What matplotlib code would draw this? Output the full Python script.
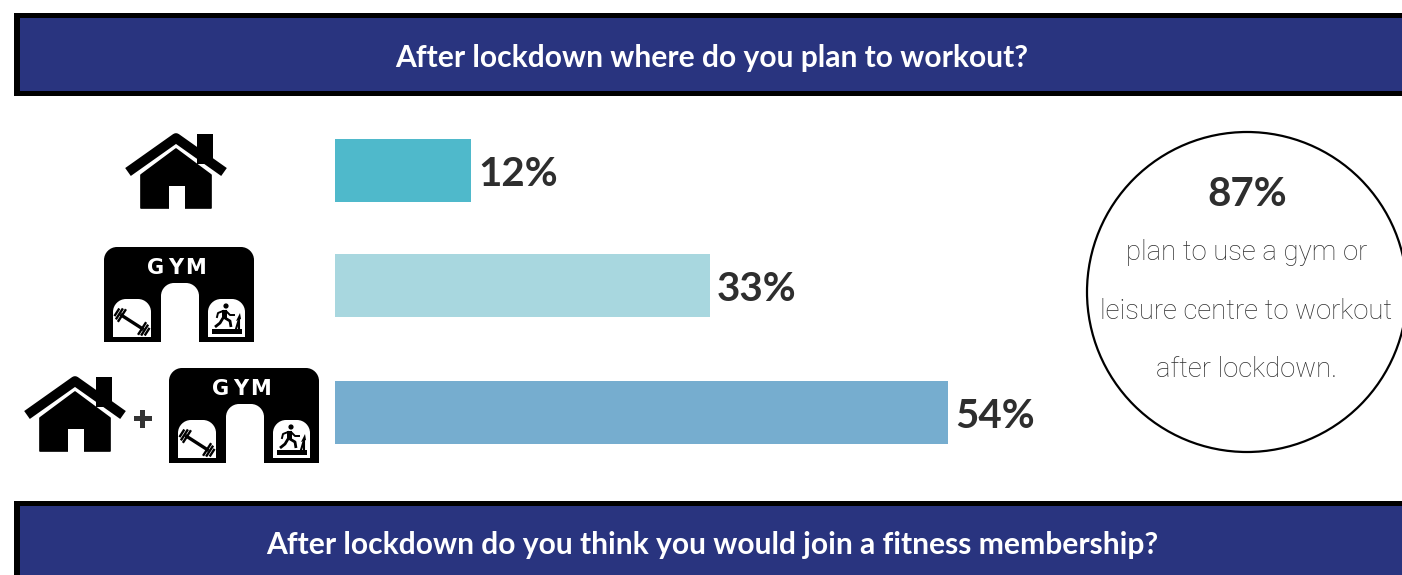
import matplotlib
matplotlib.use('Agg')
import matplotlib.pyplot as plt
import numpy as np
from matplotlib.patches import Rectangle, Circle, Polygon, PathPatch
from matplotlib.path import Path

# Datos del gráfico
categorias = ['Casa', 'Gimnasio', 'Casa + gimnasio']
valores = [12, 33, 54]
colores = ['#4FB9CB', '#A8D7DF', '#76ADCF']
titulo_1 = 'After lockdown where do you plan to workout?'
titulo_2 = 'After lockdown do you think you would join a fitness membership?'
lineas_circulo = ['plan to use a gym or', 'leisure centre to workout', 'after lockdown.']
valor_circulo = '87%'

AZUL = '#29347F'
TEXTO = '#2E2E2E'
plt.rcParams['font.family'] = ['Lato', 'DejaVu Sans']

fig = plt.figure(figsize=(14.02, 5.75), dpi=100)
# Eje de fondo en coordenadas de píxel
ax = fig.add_axes([0, 0, 1, 1])
ax.set_xlim(0, 1402)
ax.set_ylim(575, 0)
ax.axis('off')

# Ejes de las barras: 0 a 100 en x, categorías en y
ax_barras = fig.add_axes([335 / 1402, 1 - 460 / 575, (1500 - 335) / 1402, 330 / 575])
ax_barras.set_xlim(0, 1165 / 11.35)
ax_barras.set_ylim(460, 130)
ax_barras.axis('off')
ax_barras.patch.set_alpha(0)


def banner(y0, y1, texto, y_texto):
    ax.add_patch(Rectangle((14, y0), 1400, y1 - y0, fc='black', ec='none'))
    ax.add_patch(Rectangle((19.5, y0 + 5), 1400, y1 - y0 - 10.5, fc=AZUL, ec='none'))
    ax.text(712, y_texto, texto, color='white', fontsize=21.6, fontweight='bold',
            ha='center', va='baseline')


def arco(x0, x1, arriba, abajo, r, color):
    # Rectángulo con las esquinas superiores redondeadas
    k = 0.45 * r
    vertices = [(x0, abajo), (x0, arriba + r), (x0, arriba + k), (x0 + k, arriba), (x0 + r, arriba),
                (x1 - r, arriba), (x1 - k, arriba), (x1, arriba + k), (x1, arriba + r),
                (x1, abajo), (x0, abajo)]
    codigos = [Path.MOVETO, Path.LINETO, Path.CURVE4, Path.CURVE4, Path.CURVE4,
               Path.LINETO, Path.CURVE4, Path.CURVE4, Path.CURVE4,
               Path.LINETO, Path.CLOSEPOLY]
    ax.add_patch(PathPatch(Path(vertices, codigos), fc=color, ec='none'))


def casa(cx, base):
    # Tejado como línea gruesa, chimenea y cuerpo con puerta
    ax.add_patch(Rectangle((cx + 21, base - 75), 16, 30, fc='black', ec='none'))
    ax.plot([cx - 48, cx, cx + 48], [base - 37, base - 71, base - 37], color='black', lw=7,
            solid_capstyle='butt', solid_joinstyle='round')
    ax.add_patch(Polygon([(cx - 35, base - 34), (cx, base - 60), (cx + 35, base - 34),
                          (cx + 35, base - 1), (cx + 9, base - 1), (cx + 9, base - 23),
                          (cx - 7, base - 23), (cx - 7, base - 1), (cx - 35, base - 1)],
                         fc='black', ec='black', lw=1.2, joinstyle='round'))
    ax.add_patch(Rectangle((cx - 7, base - 23), 16, 24, fc='white', ec='none'))


def gimnasio(x0, y0):
    # Edificio negro con puerta en arco y dos ventanas con iconos
    arco(x0, x0 + 150, y0, y0 + 95, 13, 'black')
    arco(x0 + 57, x0 + 95, y0 + 36, y0 + 96, 13, 'white')
    arco(x0 + 9, x0 + 47, y0 + 52, y0 + 90, 13, 'white')
    arco(x0 + 104, x0 + 141, y0 + 52, y0 + 90, 13, 'white')
    for letra, dx in zip('GYM', [51.5, 71.5, 91.5]):
        ax.text(x0 + dx, y0 + 27, letra, color='white', fontsize=15, fontweight='bold',
                ha='center', va='baseline', family='DejaVu Sans')
    # Mancuerna inclinada
    centro = np.array([x0 + 28, y0 + 75])
    u = np.array([0.84, 0.54])
    v = np.array([-0.54, 0.84])
    ax.plot(*zip(centro - 14 * u, centro + 14 * u), color='black', lw=2.4, solid_capstyle='butt')
    for signo in (-1, 1):
        for t, largo in [(12, 7.5), (15, 6.5), (18, 4.5)]:
            p = centro + signo * t * u
            ax.plot(*zip(p - largo * v, p + largo * v), color='black', lw=1.7, solid_capstyle='butt')
    # Persona en la cinta de correr
    px, py = x0 + 121, y0 + 59
    ax.add_patch(Circle((px + 1, py), 2.6, fc='black', ec='none'))
    ax.add_patch(Polygon([(px - 3, py + 4), (px + 2, py + 4), (px + 2, py + 13), (px - 3, py + 13)],
                         fc='black', ec='none'))
    ax.plot([px - 2, px - 5, px - 10], [py + 12, py + 17, py + 21], color='black', lw=2,
            solid_capstyle='butt')
    ax.plot([px, px + 5, px + 6], [py + 12, py + 15, py + 21], color='black', lw=2,
            solid_capstyle='butt')
    ax.plot([px + 1, px + 5, px + 9], [py + 5, py + 9, py + 9], color='black', lw=1.4)
    ax.plot([px - 2, px - 7, px - 8], [py + 5, py + 7, py + 11], color='black', lw=1.4)
    ax.add_patch(Rectangle((x0 + 108, y0 + 82), 30, 4.5, fc='black', ec='none'))
    ax.plot([x0 + 132, x0 + 135, x0 + 135], [y0 + 82, y0 + 72, y0 + 82], color='black', lw=1.5)
    ax.add_patch(Polygon([(x0 + 132, y0 + 74), (x0 + 136, y0 + 66), (x0 + 137, y0 + 72)],
                         fc='black', ec='none'))


banner(13, 96, titulo_1, 67)
banner(501, 590, titulo_2, 554)

casa(176, 209)
gimnasio(104, 247)
casa(75, 452)
ax.add_patch(Rectangle((134, 416), 17.5, 5, fc='#333333', ec='none'))
ax.add_patch(Rectangle((140.3, 409.5), 5, 18, fc='#333333', ec='none'))
gimnasio(169, 368)

# Barras horizontales con su etiqueta de porcentaje
posiciones = [170.5, 285.5, 412.5]
barras = ax_barras.barh(posiciones, valores, height=63, color=colores)
for barra, valor in zip(barras, valores):
    ax_barras.annotate(f'{valor}%', (barra.get_width(), barra.get_y() + barra.get_height() / 2),
                       xytext=(5, -11), textcoords='offset points', color=TEXTO, fontsize=29,
                       fontweight='bold', ha='left', va='baseline')

# Círculo con el dato destacado
ax.add_patch(Circle((1247, 292), 160, fc='white', ec='black', lw=1.6))
ax.text(1247, 206, valor_circulo, color=TEXTO, fontsize=29, fontweight='bold',
        ha='center', va='baseline')
for y, linea in zip([260, 319, 377], lineas_circulo):
    ax.text(1246.5, y, linea, color='#2E2E2E', fontsize=19.8, family='Roboto', fontweight='light',
            ha='center', va='baseline')

fig.savefig('out.png', dpi=100)
